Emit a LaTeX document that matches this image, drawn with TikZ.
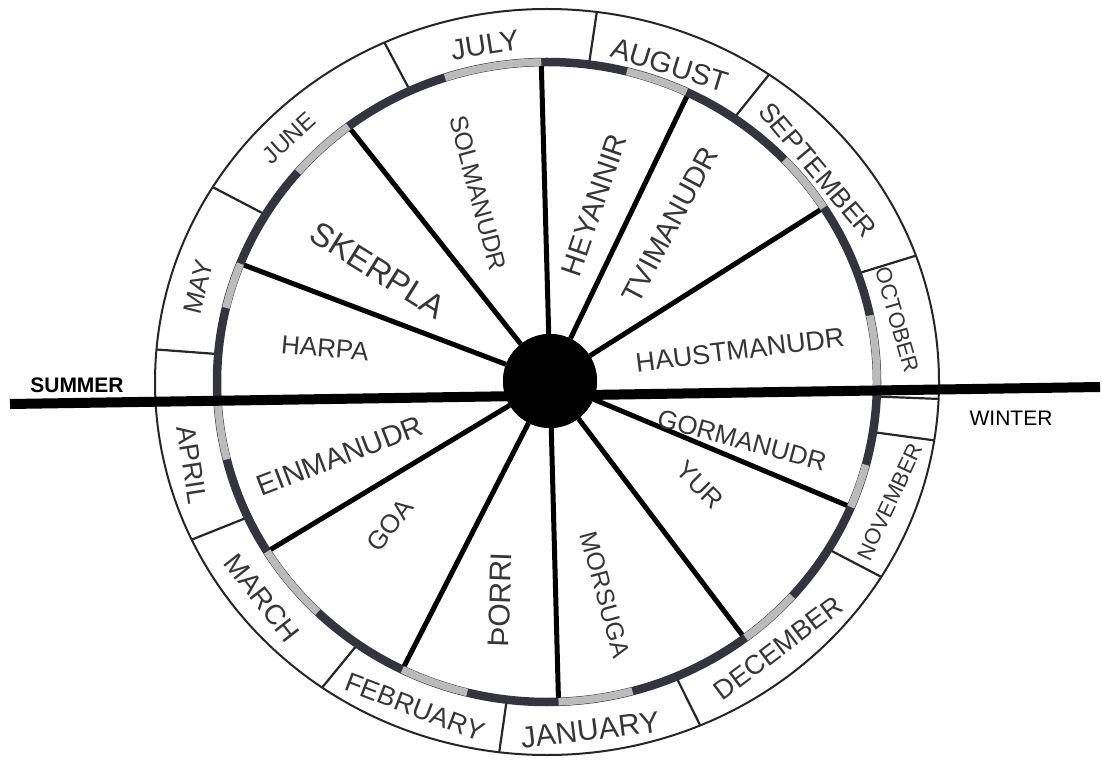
\documentclass[tikz,border=0pt]{standalone}
\usepackage{fontspec}
\setmainfont{Liberation Sans}
\usepackage{tikz}
\usetikzlibrary{positioning}

\definecolor{ringdark}{HTML}{34343E}
\definecolor{ringgrey}{HTML}{BBBBBB}
\definecolor{inkgrey}{HTML}{363636}

\tikzset{
  spoke/.style={line width=5pt, black},
  monthsep/.style={line width=2.2pt, black!85},
  greyarc/.style={line width=7.5pt, ringgrey},
  sectorlbl/.style={font=\fontsize{#1}{#1}\selectfont, text=inkgrey, inner sep=0pt},
  sectorlbl/.default=28,
  monthlbl/.style={font=\fontsize{#1}{#1}\selectfont, text=inkgrey, inner sep=0pt},
  monthlbl/.default=27,
  seasonlbl/.style={font=\fontsize{21}{21}\selectfont, text=black, inner sep=0pt}
}

\begin{document}
\begin{tikzpicture}[x=1pt,y=1pt]
	\useasboundingbox (0,0) rectangle (1102,761);
	\fill[white] (0,0) rectangle (1102,761);
	\begin{scope}[shift={(547,379)}]
		% ring of the months
		\draw[line width=2pt, black!85] (0,0) ellipse [x radius=392, y radius=373];
		\draw[monthsep] (114.5:330 and 320) -- (114.5:392 and 373);
		\draw[monthsep] (82.7:330 and 320) -- (82.7:392 and 373);
		\draw[monthsep] (55.5:330 and 320) -- (55.5:392 and 373);
		\draw[monthsep] (19.8:330 and 320) -- (19.8:392 and 373);
		\draw[monthsep] (-2.6:330 and 320) -- (-2.6:392 and 373);
		\draw[monthsep] (-9:330 and 320) -- (-9:392 and 373);
		\draw[monthsep] (-31.5:330 and 320) -- (-31.5:392 and 373);
		\draw[monthsep] (-67:330 and 320) -- (-67:392 and 373);
		\draw[monthsep] (-97:330 and 320) -- (-97:392 and 373);
		\draw[monthsep] (-125:330 and 320) -- (-125:392 and 373);
		\draw[monthsep] (-155:330 and 320) -- (-155:392 and 373);
		\draw[monthsep] (175:330 and 320) -- (175:392 and 373);
		\draw[monthsep] (148.5:330 and 320) -- (148.5:392 and 373);
		% where the spokes meet the rim
		\coordinate (rim-sol) at (91:330 and 320);
		\coordinate (rim-hey) at (64.6:330 and 320);
		\coordinate (rim-tvi) at (33:330 and 320);
		\coordinate (rim-gor) at (-23:330 and 320);
		\coordinate (rim-yur) at (-53.2:330 and 320);
		\coordinate (rim-mor) at (-88:330 and 320);
		\coordinate (rim-thor) at (-116:330 and 320);
		\coordinate (rim-goa) at (-148:330 and 320);
		\coordinate (rim-har) at (158.3:330 and 320);
		\coordinate (rim-ske) at (127:330 and 320);
	\end{scope}

	\node[circle, fill=black, inner sep=0pt, minimum size=94pt] (hub) at (550,380) {};
	\draw[spoke] (hub) -- (rim-sol);
	\draw[spoke] (hub) -- (rim-hey);
	\draw[spoke] (hub) -- (rim-tvi);
	\draw[spoke] (hub) -- (rim-gor);
	\draw[spoke] (hub) -- (rim-yur);
	\draw[spoke] (hub) -- (rim-mor);
	\draw[spoke] (hub) -- (rim-thor);
	\draw[spoke] (hub) -- (rim-goa);
	\draw[spoke] (hub) -- (rim-har);
	\draw[spoke] (hub) -- (rim-ske);

	% rim of the wheel, dark with grey bits
	\begin{scope}[shift={(547,379)}]
		\draw[line width=8.5pt, ringdark] (0,0) ellipse [x radius=330, y radius=320];
		\draw[greyarc] (76:330 and 320) arc[start angle=76, end angle=65, x radius=330, y radius=320];
		\draw[greyarc] (44:330 and 320) arc[start angle=44, end angle=33, x radius=330, y radius=320];
		\draw[greyarc] (12:330 and 320) arc[start angle=12, end angle=-1.5, x radius=330, y radius=320];
		\draw[greyarc] (-15:330 and 320) arc[start angle=-15, end angle=-23, x radius=330, y radius=320];
		\draw[greyarc] (-42:330 and 320) arc[start angle=-42, end angle=-53, x radius=330, y radius=320];
		\draw[greyarc] (-75:330 and 320) arc[start angle=-75, end angle=-88, x radius=330, y radius=320];
		\draw[greyarc] (-104:330 and 320) arc[start angle=-104, end angle=-116, x radius=330, y radius=320];
		\draw[greyarc] (-134:330 and 320) arc[start angle=-134, end angle=-148, x radius=330, y radius=320];
		\draw[greyarc] (-166:330 and 320) arc[start angle=-166, end angle=-177, x radius=330, y radius=320];
		\draw[greyarc] (166.6:330 and 320) arc[start angle=166.6, end angle=158.3, x radius=330, y radius=320];
		\draw[greyarc] (139:330 and 320) arc[start angle=139, end angle=127, x radius=330, y radius=320];
		\draw[greyarc] (108:330 and 320) arc[start angle=108, end angle=91, x radius=330, y radius=320];
	\end{scope}

	% summer / winter line
	\coordinate (summer-end) at (10,357);
	\coordinate (winter-end) at (1100,374);
	\draw[line width=10pt] (summer-end) -- (winter-end);
	\fill[black] (hub) circle (47);

	\node[seasonlbl, font=\fontsize{21}{21}\selectfont\bfseries] (summer) at (77,376) {SUMMER};
	\node[seasonlbl] (winter) at (1011,343) {WINTER};

	% old names of the months
	\node[sectorlbl=25, rotate=-75] (solmanudr) at (478,568) {SOLMANUDR};
	\node[sectorlbl=29, rotate=71] (heyannir) at (594,556) {HEYANNIR};
	\node[sectorlbl=29, rotate=62] (tvimanudr) at (670,536) {TVIMANUDR};
	\node[sectorlbl=27, rotate=7] (haustmanudr) at (740,411) {HAUSTMANUDR};
	\node[sectorlbl=26, rotate=-15] (gormanudr) at (742,321) {GORMANUDR};
	\node[sectorlbl=26, rotate=-45] (yur) at (700,276) {YUR};
	\node[sectorlbl=25, rotate=-75] (morsuga) at (605,166) {MORSUGA};
	\node[sectorlbl=30, rotate=88] (thorri) at (500,161) {ÞORRI};
	\node[sectorlbl=26, rotate=53] (goa) at (390,236) {GOA};
	\node[sectorlbl=29, rotate=21] (einmanudr) at (340,305) {EINMANUDR};
	\node[sectorlbl=26, rotate=-5] (harpa) at (325,413) {HARPA};
	\node[sectorlbl=33, rotate=-32] (skerpla) at (378,491) {SKERPLA};

	% months
	\node[monthlbl=29, rotate=9] (july) at (485,716) {JULY};
	\node[monthlbl=29, rotate=-17] (august) at (670,696) {AUGUST};
	\node[monthlbl, rotate=-50] (september) at (818,591) {SEPTEMBER};
	\node[monthlbl=22, rotate=-74] (october) at (897,441) {OCTOBER};
	\node[monthlbl=22, rotate=65] (november) at (890,259) {NOVEMBER};
	\node[monthlbl, rotate=37] (december) at (778,113) {DECEMBER};
	\node[monthlbl=30, rotate=7] (january) at (590,31) {JANUARY};
	\node[monthlbl, rotate=-21] (february) at (415,54) {FEBRUARY};
	\node[monthlbl=28, rotate=-52] (march) at (262,163) {MARCH};
	\node[monthlbl, rotate=-81] (april) at (192,296) {APRIL};
	\node[monthlbl=26, rotate=76] (may) at (198,474) {MAY};
	\node[monthlbl=24, rotate=42] (june) at (289,623) {JUNE};
\end{tikzpicture}
\end{document}
